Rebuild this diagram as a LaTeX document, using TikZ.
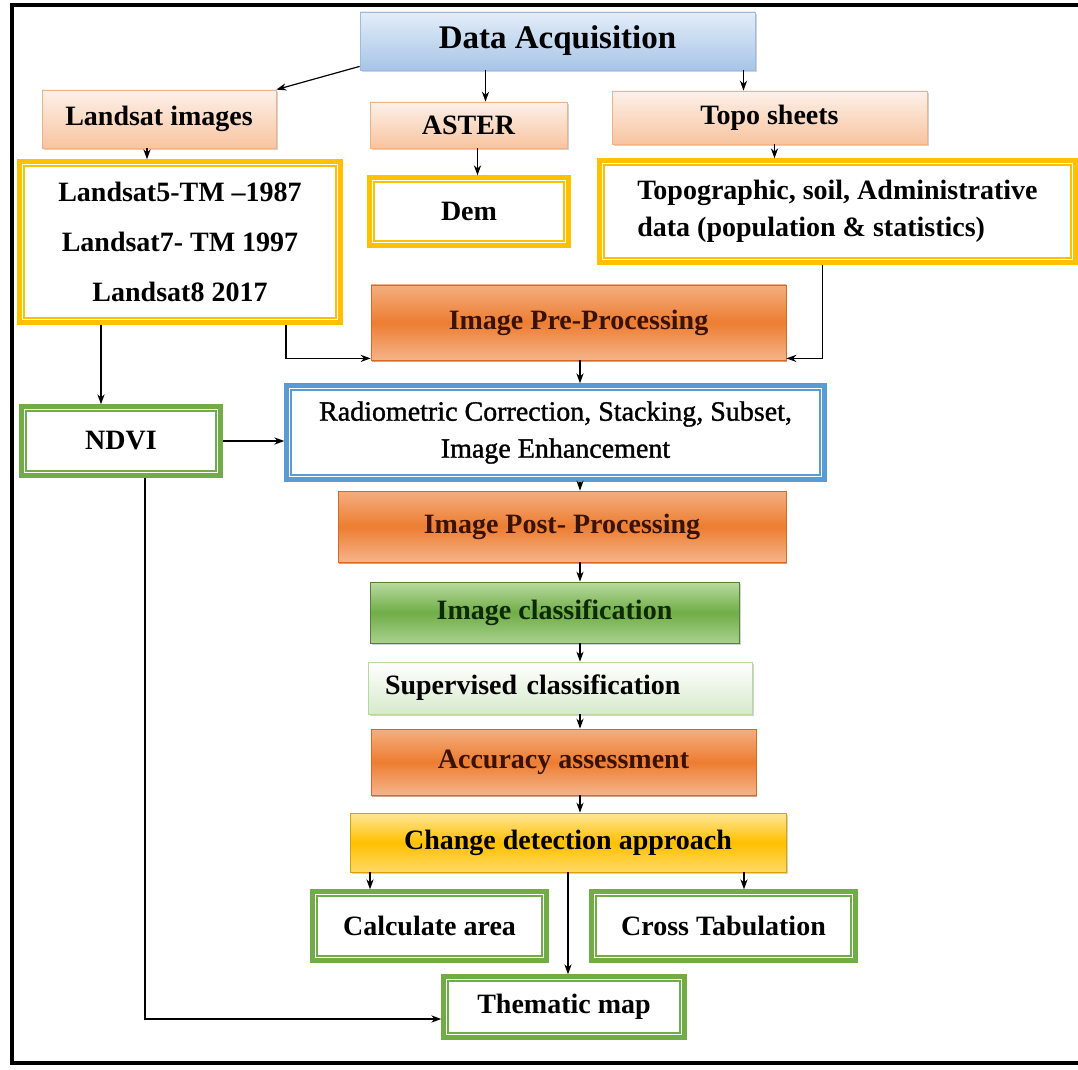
\documentclass[tikz,border=0pt]{standalone}
\usepackage{fontspec}
\setmainfont{Liberation Serif}
\newfontfamily\semibold[FakeBold=1.2]{Liberation Serif}
\usetikzlibrary{arrows.meta,shadows}

\definecolor{acqtop}{HTML}{E3EDF8}
\definecolor{acqbot}{HTML}{A7C5E8}
\definecolor{acqline}{HTML}{9DBBDC}
\definecolor{peachtop}{HTML}{FDF1EA}
\definecolor{peachbot}{HTML}{F8C4A0}
\definecolor{peachline}{HTML}{F4B183}
\definecolor{orangetop}{HTML}{F4AE80}
\definecolor{orangemid}{HTML}{ED7D31}
\definecolor{orangebot}{HTML}{F5B48A}
\definecolor{orangeline}{HTML}{D8691E}
\definecolor{orangeshadow}{HTML}{9C4A12}
\definecolor{orangetext}{HTML}{3A1200}
\definecolor{greentop}{HTML}{B9DBA0}
\definecolor{greenmid}{HTML}{70AD47}
\definecolor{greenbot}{HTML}{A9D18E}
\definecolor{greenline}{HTML}{548235}
\definecolor{greentext}{HTML}{0E2A05}
\definecolor{supbot}{HTML}{D6EACB}
\definecolor{supline}{HTML}{B5D7A0}
\definecolor{cdtop}{HTML}{FFE699}
\definecolor{cdmid}{HTML}{FFC000}
\definecolor{cdbot}{HTML}{FFD966}
\definecolor{cdline}{HTML}{D8A300}
\definecolor{yframe}{HTML}{FFC000}
\definecolor{gframe}{HTML}{70AD47}
\definecolor{bframe}{HTML}{5B9BD5}

\begin{document}
\begin{tikzpicture}[x=0.5pt, y=-0.5pt,
    flow/.style={inner sep=2pt, align=center, font=\bfseries\fontsize{14}{17}\selectfont},
    shade/.style={drop shadow={shadow xshift=0.8pt, shadow yshift=-1pt, fill=black!35}},
    acqbox/.style={flow, shade, draw=acqline, top color=acqtop, bottom color=acqbot},
    peach/.style={flow, shade, draw=peachline, top color=peachtop, bottom color=peachbot},
    orangebox/.style={flow, draw=orangeline, top color=orangetop, bottom color=orangebot, middle color=orangemid,
        text=orangetext, drop shadow={shadow xshift=0.6pt, shadow yshift=-1.2pt, fill=orangeshadow}},
    greenbox/.style={flow, shade, draw=greenline, top color=greentop, bottom color=greenbot, middle color=greenmid, text=greentext},
    palegreen/.style={flow, shade, draw=supline, top color=white, bottom color=supbot},
    goldbox/.style={flow, shade, draw=cdline, top color=cdtop, bottom color=cdbot, middle color=cdmid},
    dbox/.style={flow, draw=#1, line width=2.2pt, fill=white},
    arr/.style={draw, line width=0.6pt, -{Stealth[length=5pt, width=3.6pt]}}
]
\useasboundingbox (0,0) rectangle (1078,1070);
\fill[white] (0,0) rectangle (1078,1070);
\draw[line width=2pt] (12,5) rectangle (1086,1063);

% Define boxes
\node[acqbox, minimum width=197.5pt, minimum height=29pt, font=\bfseries\fontsize{16.5}{19}\selectfont] (acq) at (557.5,41) {Data Acquisition};
\node[peach, minimum width=117pt, minimum height=29pt] (lsimg) at (159,119) {Landsat images};
\node[peach, minimum width=98.5pt, minimum height=23pt] (aster) at (468.5,125) {ASTER};
\node[peach, minimum width=157.5pt, minimum height=26.5pt] (topo) at (769.5,117.5) {Topo sheets};
\node[dbox=yframe, minimum width=160.5pt, minimum height=80.5pt, font=\bfseries\fontsize{14}{25}\selectfont] (lsbox) at (180,242)
    {Landsat5-TM –1987\\Landsat7- TM 1997\\Landsat8 2017};
\node[dbox=yframe, minimum width=99.5pt, minimum height=34pt] (dem) at (469,211.5) {Dem};
\node[dbox=yframe, minimum width=238pt, minimum height=51pt, align=left, font=\bfseries\fontsize{14}{18.5}\selectfont] (topobox) at (837.5,211.5)
    {Topographic, soil, Administrative\\data (population \& statistics)};
\node[orangebox, minimum width=207.5pt, minimum height=37.5pt] (pre) at (578.5,322.5) {Image Pre-Processing};
\node[dbox=bframe, minimum width=269pt, minimum height=47pt, font=\semibold\fontsize{14}{18.5}\selectfont] (rad) at (555.5,432.5)
    {Radiometric Correction, Stacking, Subset,\\Image Enhancement};
\node[dbox=gframe, minimum width=99.5pt, minimum height=34.5pt] (ndvi) at (121,441) {NDVI};
\node[orangebox, minimum width=224pt, minimum height=35.5pt] (post) at (562,526.5) {Image Post- Processing};
\node[greenbox, minimum width=184.5pt, minimum height=30.5pt] (cls) at (554.5,612.5) {Image classification};
\node[palegreen, minimum height=26pt, text width=175pt, inner xsep=8.5pt, align=left] (sup) at (560,688) {Supervised classification};
\node[orangebox, minimum width=192.5pt, minimum height=33pt] (acc) at (563.5,762) {Accuracy assessment};
\node[goldbox, minimum width=218pt, minimum height=29.5pt] (cd) at (568,842.5) {Change detection approach};
\node[dbox=gframe, minimum width=117pt, minimum height=34.5pt] (calc) at (429.5,926) {Calculate area};
\node[dbox=gframe, minimum width=132pt, minimum height=34.5pt] (cross) at (723.5,926) {Cross Tabulation};
\node[dbox=gframe, minimum width=120.5pt, minimum height=30.5pt] (thm) at (564,1007) {Thematic map};

% Inner lines of the framed boxes
\foreach \n/\c in {lsbox/yframe, dem/yframe, topobox/yframe, rad/bframe, ndvi/gframe, calc/gframe, cross/gframe, thm/gframe}
    \draw[draw=\c, line width=0.7pt] ([shift={(3.3pt,-3.3pt)}]\n.north west) rectangle ([shift={(-3.3pt,3.3pt)}]\n.south east);

% Define arrows
\coordinate (spine) at (580,0);
\draw[arr] ([yshift=2pt]acq.south west) -- (lsimg.north east);
\draw[arr] ([xshift=-36pt]acq.south) -- ([xshift=-36pt]acq.south |- aster.north);
\draw[arr] ([xshift=93pt]acq.south) -- ([xshift=93pt]acq.south |- topo.north);
\draw[arr] ([xshift=-6pt]lsimg.south) -- ([xshift=-6pt]lsimg.south |- lsbox.north);
\draw[arr] ([xshift=4.5pt]aster.south) -- ([xshift=4.5pt]aster.south |- dem.north);
\draw[arr] ([xshift=2.5pt]topo.south) -- ([xshift=2.5pt]topo.south |- topobox.north);
\draw[arr] ([xshift=-10pt]ndvi.north |- lsbox.south) -- ([xshift=-10pt]ndvi.north);
\draw[arr] ([xshift=53pt]lsbox.south) |- ([yshift=1pt]pre.south west);
\draw[arr] ([xshift=-7.5pt]topobox.south) |- ([yshift=1pt]pre.south east);
\draw[arr] (spine |- pre.south) -- (spine |- rad.north);
\draw[arr] (ndvi.east) -- (ndvi.east -| rad.west);
\draw[arr] (spine |- rad.south) -- (spine |- post.north);
\draw[arr] (spine |- post.south) -- (spine |- cls.north);
\draw[arr] (spine |- cls.south) -- (spine |- sup.north);
\draw[arr] (spine |- sup.south) -- (spine |- acc.north);
\draw[arr] (spine |- acc.south) -- (spine |- cd.north);
\draw[arr] ([xshift=-99pt]cd.south) -- ([xshift=-99pt]cd.south |- calc.north);
\draw[arr] ([xshift=88pt]cd.south) -- ([xshift=88pt]cd.south |- cross.north);
\draw[arr] (cd.south) -- (cd.south |- thm.north);
\draw[arr] ([xshift=12pt]ndvi.south) |- ([yshift=-6pt]thm.west);

\end{tikzpicture}
\end{document}
